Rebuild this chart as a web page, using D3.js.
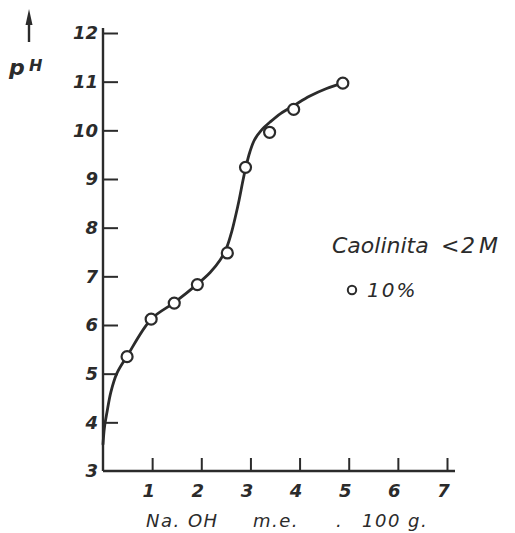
<!DOCTYPE html>
<html>
<head>
<meta charset="utf-8">
<script src="https://cdn.jsdelivr.net/npm/d3@7"></script>
<style>
  html, body { margin: 0; padding: 0; background: #fff; }
  svg { display: block; }
  text { font-family: "DejaVu Sans", sans-serif; fill: #2b2b2b; }
</style>
</head>
<body>
<svg id="chart" width="515" height="533"></svg>
<script>
// Titration of kaolinite (< 2 µ, 10 %) with NaOH
const naohMeq = [0.49, 0.98, 1.45, 1.92, 2.53, 2.90, 3.39, 3.88, 4.88];
const phMeasured = [5.35, 6.12, 6.45, 6.83, 7.48, 9.24, 9.96, 10.43, 10.97];

// Hand-fitted curve through the measurements
const curveX = [0.00, 0.03, 0.08, 0.16, 0.28, 0.49, 0.98, 1.45, 1.92, 2.18, 2.38, 2.52, 2.62, 2.70, 2.77, 2.85, 2.92, 2.99, 3.08, 3.22, 3.40, 3.62, 3.90, 4.20, 4.55, 4.88];
const curvePh = [3.55, 3.90, 4.20, 4.62, 5.00, 5.36, 6.12, 6.46, 6.84, 7.08, 7.33, 7.60, 7.92, 8.25, 8.57, 8.98, 9.30, 9.56, 9.80, 10.00, 10.17, 10.35, 10.52, 10.70, 10.86, 10.97];

const xTicks = [1, 2, 3, 4, 5, 6, 7];
const yTicks = [3, 4, 5, 6, 7, 8, 9, 10, 11, 12];

const ink = "#2b2b2b";
const svg = d3.select("#chart");

const x = d3.scaleLinear().domain([0, 7]).range([103, 447]);
const y = d3.scaleLinear().domain([3, 12]).range([471, 33]);

// Y axis: ticks pointing into the plot, labels on the left
const yAxis = svg.append("g")
  .attr("transform", `translate(${x(0)},0)`)
  .call(d3.axisLeft(y).tickValues(yTicks).tickSize(-15).tickSizeOuter(0).tickPadding(5)
    .tickFormat(d3.format("d")));
yAxis.select(".domain").remove();
yAxis.selectAll(".tick line").attr("stroke", ink).attr("stroke-width", 2)
  .attr("display", d => d === 3 ? "none" : null);
yAxis.selectAll(".tick text")
  .attr("font-size", 18).attr("font-style", "italic").attr("font-weight", "bold")
  .attr("fill", "#333").attr("font-family", "DejaVu Sans");

// X axis: ticks pointing up, labels below
const xAxis = svg.append("g")
  .attr("transform", `translate(0,${y(3)})`)
  .call(d3.axisBottom(x).tickValues(xTicks).tickSize(-13).tickSizeOuter(0)
    .tickFormat(d3.format("d")));
xAxis.select(".domain").remove();
xAxis.selectAll(".tick line").attr("stroke", ink).attr("stroke-width", 2);
xAxis.selectAll(".tick text")
  .attr("y", 26).attr("dy", 0).attr("x", -4)
  .attr("font-size", 18).attr("font-style", "italic").attr("font-weight", "bold")
  .attr("fill", "#333").attr("font-family", "DejaVu Sans");

// Axis lines
svg.append("line").attr("x1", x(0)).attr("x2", x(0)).attr("y1", 28).attr("y2", y(3))
  .attr("stroke", ink).attr("stroke-width", 2.4);
svg.append("line").attr("x1", x(0)).attr("x2", 455).attr("y1", y(3)).attr("y2", y(3))
  .attr("stroke", ink).attr("stroke-width", 2.4);

// Fitted curve
const curvePts = curveX.map((v, i) => [v, curvePh[i]]);
svg.append("path")
  .datum(curvePts)
  .attr("fill", "none").attr("stroke", ink).attr("stroke-width", 2.8)
  .attr("stroke-linejoin", "round").attr("stroke-linecap", "round")
  .attr("d", d3.line().x(d => x(d[0])).y(d => y(d[1])).curve(d3.curveCatmullRom.alpha(0.5)));

// Measured points
svg.append("g").selectAll("circle")
  .data(naohMeq.map((v, i) => [v, phMeasured[i]]))
  .join("circle")
  .attr("cx", d => x(d[0])).attr("cy", d => y(d[1])).attr("r", 5.5)
  .attr("fill", "#fff").attr("stroke", ink).attr("stroke-width", 2.2);

// Y axis title: arrow + pH
svg.append("line").attr("x1", 29).attr("x2", 29).attr("y1", 42).attr("y2", 20)
  .attr("stroke", ink).attr("stroke-width", 2.4);
svg.append("path").attr("d", "M29,9 L25.5,25 L32.5,25 Z").attr("fill", ink);
svg.append("text").attr("x", 9).attr("y", 75).attr("font-size", 22).attr("font-style", "italic")
  .attr("font-weight", "bold").text("p");
svg.append("text").attr("x", 29).attr("y", 71).attr("font-size", 16).attr("font-style", "italic")
  .attr("font-weight", "bold").text("H");

// X axis title
const titleY = 527;
svg.append("text").attr("x", 146).attr("y", titleY).attr("font-size", 18).attr("font-style", "italic")
  .attr("letter-spacing", 1.5).text("Na. OH");
svg.append("text").attr("x", 253).attr("y", titleY).attr("font-size", 18).attr("font-style", "italic")
  .attr("letter-spacing", 1.5).text("m.e.");
svg.append("text").attr("x", 336).attr("y", titleY).attr("font-size", 18).attr("font-style", "italic").text(".");
svg.append("text").attr("x", 362).attr("y", titleY).attr("font-size", 18).attr("font-style", "italic")
  .attr("xml:space", "preserve").attr("letter-spacing", 1.5).text("100 g.");

// Legend
svg.append("text").attr("x", 332).attr("y", 253).attr("font-size", 22).attr("font-style", "italic")
  .text("Caolinita");
svg.append("text").attr("x", 441).attr("y", 253).attr("font-size", 22).attr("font-style", "italic").text("<");
svg.append("text").attr("x", 461).attr("y", 253).attr("font-size", 22).attr("font-style", "italic").text("2");
svg.append("text").attr("x", 479).attr("y", 253).attr("font-size", 22).attr("font-style", "italic").text("M");
svg.append("circle").attr("cx", 352).attr("cy", 290).attr("r", 4.2)
  .attr("fill", "#fff").attr("stroke", ink).attr("stroke-width", 2);
svg.append("text").attr("x", 367).attr("y", 297).attr("font-size", 20).attr("font-style", "italic")
  .attr("letter-spacing", 2).text("10%");
</script>
</body>
</html>
